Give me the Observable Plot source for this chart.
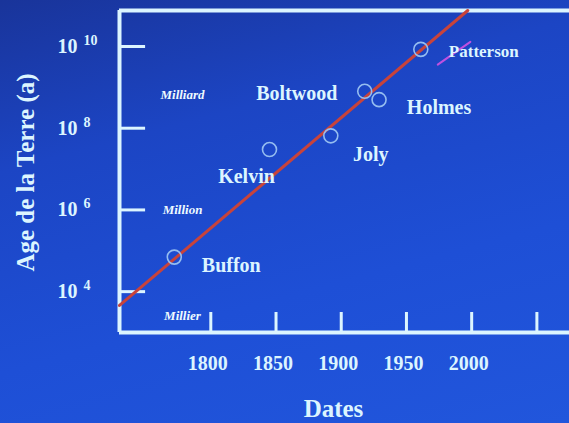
<!DOCTYPE html>
<html>
<head>
<meta charset="utf-8">
<script src="https://cdn.jsdelivr.net/npm/d3@7"></script>
<script src="https://cdn.jsdelivr.net/npm/@observablehq/plot@0.6"></script>
<style>
  html, body { margin: 0; padding: 0; }
  body {
    width: 569px; height: 423px; overflow: hidden;
    background: linear-gradient(165deg, #19349a 0%, #1c45c4 30%, #1e4fd6 65%, #2156dc 100%);
  }
  svg { display: block; background: transparent; }
</style>
</head>
<body>
<div id="chart"></div>
<script>
// ---- data ----
const names = ["Buffon", "Kelvin", "Joly", "Boltwood", "Holmes", "Patterson"];
const years = [1772, 1845, 1892, 1918, 1929, 1961];
const ages  = [7e4, 3e7, 6.5e7, 8e8, 5e8, 8.5e9];

const fitYears = [1730, 1997];
const fitAges  = [4.6e3, 7.6e10];

const xTickYears  = [1800, 1850, 1900, 1950, 2000, 2050];
const xTickLabels = ["1800", "1850", "1900", "1950", "2000"];
const yTicks      = [1e4, 1e6, 1e8, 1e10];
const yTickExp    = ["4", "6", "8", "10"];

const unitNames  = ["Milliard", "Million", "Millier"];
const unitValues = [1e9, 1e6, 1e3];

const strikeYears = [1974, 1999];
const strikeAges  = [3.6e9, 1.3e10];

const xDomain = [1730, 2075];
const yDomain = [1e3, 7.6e10];

// ---- styles (not data) ----
const ink = "#dcf5ff";
const font = "'Liberation Serif', 'DejaVu Serif', serif";
const labelOffsets = {
  Buffon: [57, 8], Kelvin: [-23, 27], Joly: [40, 19],
  Boltwood: [-68, 2], Holmes: [60, 8], Patterson: [63, 2]
};
const labelSizes = {Patterson: 17};
const unitDy = {Milliard: 7, Million: 0, Millier: -17};

const points = names.map((n, i) => ({name: n, year: years[i], age: ages[i]}));
const fit = fitYears.map((y, i) => ({year: y, age: fitAges[i]}));
const strike = strikeYears.map((y, i) => ({year: y, age: strikeAges[i]}));
const units = unitNames.map((n, i) => ({name: n, value: unitValues[i]}));
const yTickData = yTicks.map((v, i) => ({v, e: yTickExp[i]}));
const xLabelData = xTickLabels.map(t => ({year: +t, t}));

const tickLenYears = 20;          // inward y-tick length (in year units)
const tickLenFactor = Math.pow(10, 0.49); // upward x-tick length (log units)

const chart = Plot.plot({
  width: 569,
  height: 423,
  marginLeft: 119,
  marginRight: 0,
  marginTop: 10,
  marginBottom: 91,
  style: {background: "transparent", fontFamily: font, color: ink, overflow: "visible"},
  x: {domain: xDomain, axis: null},
  y: {type: "log", domain: yDomain, axis: null},
  marks: [
    // frame
    Plot.ruleX([xDomain[0]], {x: d => d, stroke: ink, strokeWidth: 4}),
    Plot.ruleY([yDomain[0]], {y: d => d, stroke: ink, strokeWidth: 4, x1: xDomain[0], x2: xDomain[1]}),
    Plot.ruleY([yDomain[1]], {y: d => d, stroke: ink, strokeWidth: 4, x1: xDomain[0], x2: xDomain[1]}),
    // ticks
    Plot.ruleX(xTickYears, {x: d => d, y1: yDomain[0], y2: yDomain[0] * tickLenFactor, stroke: ink, strokeWidth: 3}),
    Plot.ruleY(yTicks, {y: d => d, x1: xDomain[0], x2: xDomain[0] + tickLenYears, stroke: ink, strokeWidth: 3}),
    // x tick labels
    Plot.text(xLabelData, {x: "year", text: "t", frameAnchor: "bottom", lineAnchor: "middle", dy: 31,
      dx: -3, fill: ink, fontSize: 20, fontWeight: "bold"}),
    // y tick labels: 10 with exponent
    Plot.text(yTickData, {y: "v", text: () => "10", frameAnchor: "left", textAnchor: "end", dx: -42,
      fill: ink, fontSize: 20, fontWeight: "bold"}),
    Plot.text(yTickData, {y: "v", text: "e", frameAnchor: "left", textAnchor: "start", dx: -36, dy: -6,
      fill: ink, fontSize: 14, fontWeight: "bold"}),
    // unit words
    ...units.map(u => Plot.text([u], {y: "value", text: "name", frameAnchor: "left", textAnchor: "middle",
      dx: 63, dy: unitDy[u.name], fill: "#eefaff", fontSize: 13, fontWeight: "bold", fontStyle: "italic"})),
    // fit line
    Plot.line(fit, {x: "year", y: "age", stroke: "#c8433b", strokeWidth: 3}),
    // points
    Plot.dot(points, {x: "year", y: "age", r: 7, stroke: "#95bdf0", strokeWidth: 1.6, fill: "none"}),
    // strike across Patterson
    Plot.line(strike, {x: "year", y: "age", stroke: "#c050e0", strokeWidth: 2}),
    // names
    ...names.map(n => Plot.text(points.filter(p => p.name === n), {
      x: "year", y: "age", text: "name",
      dx: labelOffsets[n][0], dy: labelOffsets[n][1],
      fill: ink, fontSize: labelSizes[n] || 20, fontWeight: "bold"
    })),
    // axis titles
    Plot.text(["Dates"], {text: d => d, frameAnchor: "bottom", textAnchor: "middle", lineAnchor: "middle",
      dx: 333 - 119 - 225, dy: 76, fill: ink, fontSize: 25, fontWeight: "bold"}),
    Plot.text(["Age de la Terre (a)"], {text: d => d, frameAnchor: "left", textAnchor: "middle", lineAnchor: "middle",
      dx: -94, dy: 1, rotate: -90, fill: ink, fontSize: 25, fontWeight: "bold"})
  ]
});
document.getElementById("chart").appendChild(chart);
</script>
</body>
</html>
